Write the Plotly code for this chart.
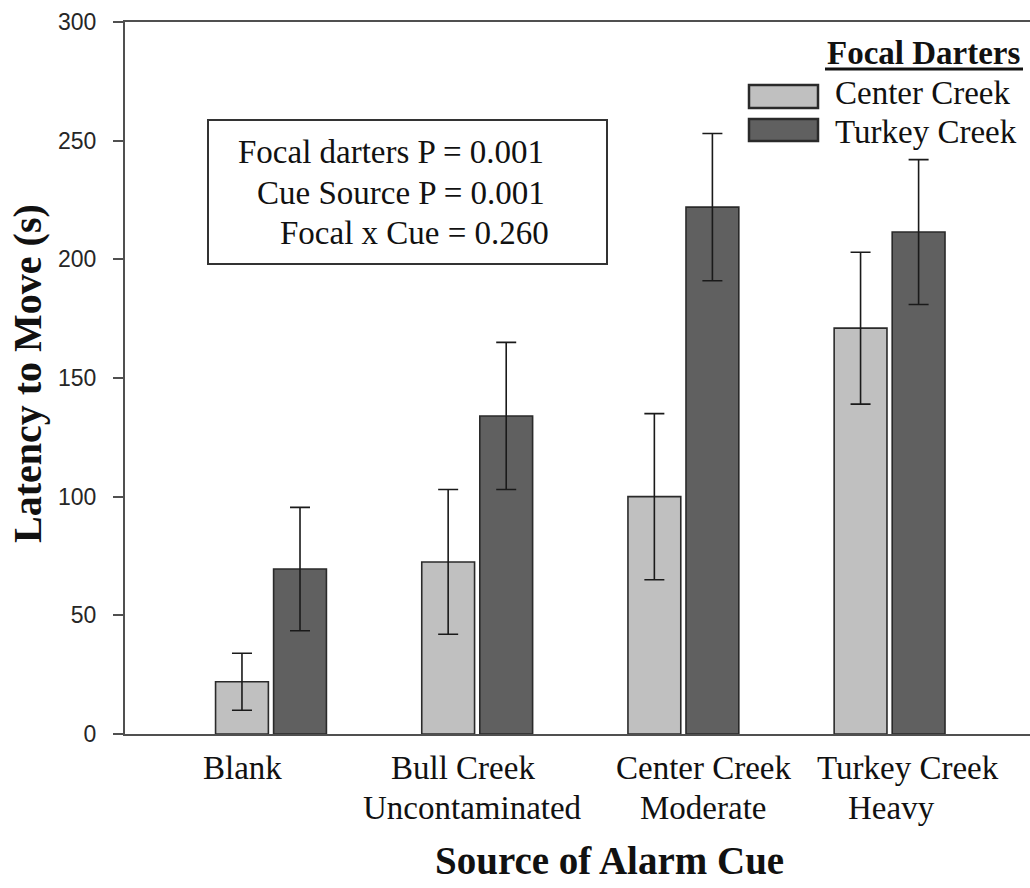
import plotly.graph_objects as go

# ---- data ----
categories = ["Blank", "Bull Creek\nUncontaminated", "Center Creek\nModerate", "Turkey Creek\nHeavy"]
series_names = ["Center Creek", "Turkey Creek"]
center_means = [22, 72.5, 100, 171]
center_se = [12, 30.5, 35, 32]
turkey_means = [69.5, 134, 222, 211.5]
turkey_se = [26, 31, 31, 30.5]
y_ticks = [0, 50, 100, 150, 200, 250, 300]
stats_lines = ["Focal darters P = 0.001", "Cue Source P = 0.001", "Focal x Cue = 0.260"]
legend_title = "Focal Darters"
x_title = "Source of Alarm Cue"
y_title = "Latency to Move (s)"

# ---- layout geometry (pixels) ----
W, H = 1030, 888
L, R, T, B = 125, 0, 22, 154
PW = W - L - R
PH = H - T - B


def px(xp):
    return (xp - L) / PW


def py(yp):
    return (H - B - yp) / PH


SERIF = "Liberation Serif, Times New Roman, serif"
SANS = "Liberation Sans, Arial, sans-serif"
LIGHT = "#c0c0c0"
DARK = "#606060"
EDGE = "#2a2a2a"
AXIS = "#505050"

x_idx = list(range(len(categories)))

fig = go.Figure()
for name, means, se, color in [
    (series_names[0], center_means, center_se, LIGHT),
    (series_names[1], turkey_means, turkey_se, DARK),
]:
    fig.add_trace(go.Bar(
        x=x_idx, y=means, name=name,
        marker=dict(color=color, line=dict(color=EDGE, width=1.6)),
        error_y=dict(type="data", array=se, visible=True,
                     color="#1a1a1a", thickness=1.6, width=10),
        showlegend=False,
    ))

fig.update_layout(
    width=W, height=H,
    margin=dict(l=L, r=R, t=T, b=B),
    paper_bgcolor="white", plot_bgcolor="white",
    barmode="group", bargap=0.437, bargroupgap=0.09,
    font=dict(family=SERIF, color="#111"),
    xaxis=dict(
        range=[-0.708, 3.681], showgrid=False, zeroline=False,
        showline=True, linecolor=AXIS, linewidth=2, mirror=True,
        ticks="", showticklabels=False, fixedrange=True,
    ),
    yaxis=dict(
        range=[0, 300], tickvals=y_ticks, showgrid=False, zeroline=False,
        showline=True, linecolor=AXIS, linewidth=2,
        ticks="outside", ticklen=10, tickwidth=2, tickcolor=AXIS,
        tickfont=dict(family=SANS, size=23, color="#262626"),
        ticklabelstandoff=12, fixedrange=True,
    ),
)

ann = []
# category labels (each line placed individually)
line_x = [[242], [463, 472], [704, 703], [908, 891]]
line_y = [768, 808]
for i, cat in enumerate(categories):
    for j, line in enumerate(cat.split("\n")):
        ann.append(dict(x=px(line_x[i][j]), y=py(line_y[j]), xref="paper", yref="paper",
                        text=line, showarrow=False, xanchor="center", yanchor="middle",
                        font=dict(family=SERIF, size=33, color="#111")))

# axis titles
ann.append(dict(x=px(609), y=py(860), xref="paper", yref="paper", text="<b>%s</b>" % x_title,
                showarrow=False, xanchor="center", yanchor="middle",
                font=dict(family=SERIF, size=39, color="#111")))
ann.append(dict(x=px(27), y=py(374), xref="paper", yref="paper", text="<b>%s</b>" % y_title,
                showarrow=False, xanchor="center", yanchor="middle", textangle=-90,
                font=dict(family=SERIF, size=40, color="#111")))

# stats box text
for txt, xl, yc in zip(stats_lines, [236, 255, 278], [152, 193, 233]):
    ann.append(dict(x=px(xl), y=py(yc), xref="paper", yref="paper", text=txt,
                    showarrow=False, xanchor="left", yanchor="middle",
                    font=dict(family=SERIF, size=33, color="#111")))

# legend
ann.append(dict(x=px(825), y=py(53), xref="paper", yref="paper", text="<b>%s</b>" % legend_title,
                showarrow=False, xanchor="left", yanchor="middle",
                font=dict(family=SERIF, size=33, color="#111")))
for name, yc in zip(series_names, [93, 132]):
    ann.append(dict(x=px(833), y=py(yc), xref="paper", yref="paper", text=name,
                    showarrow=False, xanchor="left", yanchor="middle",
                    font=dict(family=SERIF, size=33, color="#111")))

shapes = [
    dict(type="rect", xref="paper", yref="paper", x0=px(208), x1=px(607), y0=py(264), y1=py(120),
         line=dict(color="#333", width=2), fillcolor="rgba(0,0,0,0)"),
    dict(type="line", xref="paper", yref="paper", x0=px(825), x1=px(1023), y0=py(69), y1=py(69),
         line=dict(color="#111", width=3)),
    dict(type="rect", xref="paper", yref="paper", x0=px(749), x1=px(818), y0=py(108), y1=py(85),
         line=dict(color=EDGE, width=2.5), fillcolor=LIGHT),
    dict(type="rect", xref="paper", yref="paper", x0=px(749), x1=px(818), y0=py(141), y1=py(119),
         line=dict(color=EDGE, width=2.5), fillcolor=DARK),
]
fig.update_layout(annotations=ann, shapes=shapes)

fig.write_html(
    "out.html",
    config={"displayModeBar": False},
    post_script="document.body.style.margin='0';document.body.style.overflow='hidden';",
)
